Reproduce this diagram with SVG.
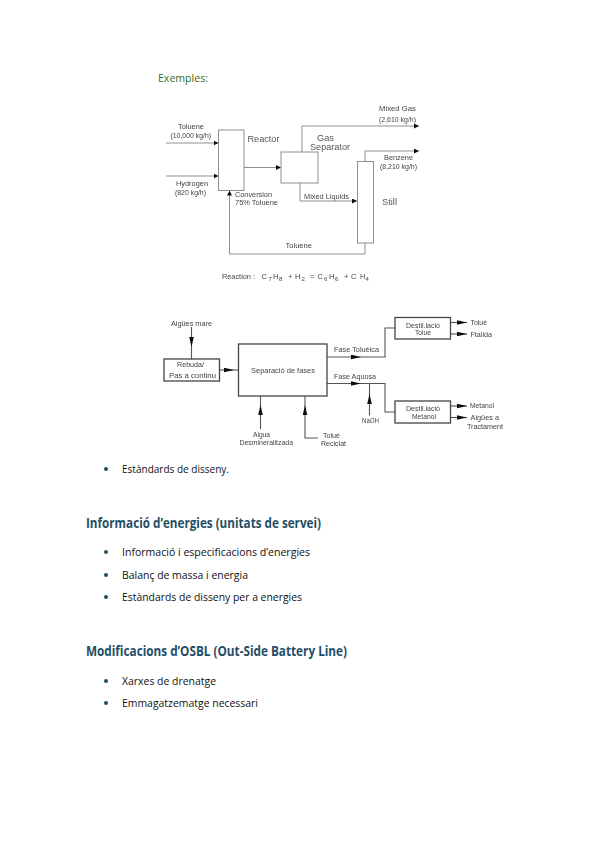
<svg xmlns="http://www.w3.org/2000/svg" width="599" height="848" viewBox="0 0 599 848">
<style>
.bg{fill:#fff}
.n1{fill:#fff;stroke:#8f8f8f;stroke-width:1}
.n2{fill:#fff;stroke:#6a6a6a;stroke-width:1}
.n2b{fill:#fff;stroke:#444;stroke-width:1.3}
.c1{fill:none;stroke:#8f8f8f;stroke-width:1}
.c2{fill:none;stroke:#555;stroke-width:1.1}
.t1{font-family:"Liberation Sans",Arial,sans-serif;font-size:7px;fill:#444}
.t1b{font-family:"Liberation Sans",Arial,sans-serif;font-size:9.500px;fill:#555}
.t2{font-family:"Liberation Sans",Arial,sans-serif;font-size:7.500px;fill:#444}
.t3{font-family:"Liberation Sans",Arial,sans-serif;font-size:7.500px;fill:#444}
.sub{font-size:6px}
.body{font-family:"Open Sans","Liberation Sans",sans-serif;font-size:11px;fill:#111}
.h{font-family:"Open Sans","Liberation Sans",sans-serif;font-size:13.500px;font-weight:700;fill:#1f4e66}
.ex{font-family:"Open Sans","Liberation Sans",sans-serif;font-size:11.500px;fill:#34701a}
.bul{fill:#1f4e66}
</style>
<defs>
<marker id="a1" markerUnits="userSpaceOnUse" markerWidth="6" markerHeight="6" refX="5" refY="2.500" orient="auto"><path d="M0 0L5 2.500L0 5Z" fill="#111"/></marker>
<marker id="a2" markerUnits="userSpaceOnUse" markerWidth="12" markerHeight="6" refX="10" refY="2.500" orient="auto"><path d="M0 0.200L10 2.500L0 4.800Z" fill="#111"/></marker>
<filter id="soft" x="-5%" y="-5%" width="110%" height="110%"><feGaussianBlur stdDeviation="0.450"/></filter>
</defs>
<rect class="bg" width="599" height="848"/>
<text class="ex" x="158" y="82" textLength="50" lengthAdjust="spacingAndGlyphs">Exemples:</text>

<g filter="url(#soft)">
<g id="connectors-top">
<path class="c1" d="M166 143H218.500" marker-end="url(#a1)"/>
<path class="c1" d="M166 176H218.500" marker-end="url(#a1)"/>
<path class="c1" d="M244 167.500H281" marker-end="url(#a1)"/>
<path class="c1" d="M302 152V126H419" marker-end="url(#a1)"/>
<path class="c1" d="M365 161.500V151H419" marker-end="url(#a1)"/>
<path class="c1" d="M300 183V201H357" marker-end="url(#a1)"/>
<path class="c1" d="M365 243V254H229.500V190.500" marker-end="url(#a1)"/>
</g>
<g id="reactor"><rect class="n1" x="218.500" y="130" width="25.500" height="60.500"/><text class="t1b" x="247.500" y="141.500" textLength="32" lengthAdjust="spacingAndGlyphs">Reactor</text></g>
<g id="gas-separator"><rect class="n1" x="281" y="152" width="37" height="31"/><text class="t1b" x="317" y="140.500" textLength="17" lengthAdjust="spacingAndGlyphs">Gas</text><text class="t1b" x="310" y="150" textLength="40" lengthAdjust="spacingAndGlyphs">Separator</text></g>
<g id="still"><rect class="n1" x="357.500" y="161.500" width="16" height="81.500"/><text class="t1b" x="382" y="205" textLength="15" lengthAdjust="spacingAndGlyphs">Still</text></g>
<g id="labels-top">
<text class="t1" x="379" y="111" textLength="37" lengthAdjust="spacingAndGlyphs">Mixed Gas</text>
<text class="t1" x="379" y="121.500" textLength="37" lengthAdjust="spacingAndGlyphs">(2,610 kg/h)</text>
<text class="t1" x="178" y="128.500" textLength="26" lengthAdjust="spacingAndGlyphs">Toluene</text>
<text class="t1" x="170.500" y="138" textLength="40.500" lengthAdjust="spacingAndGlyphs">(10,000 kg/h)</text>
<text class="t1" x="384" y="160" textLength="29" lengthAdjust="spacingAndGlyphs">Benzene</text>
<text class="t1" x="380" y="169" textLength="37" lengthAdjust="spacingAndGlyphs">(8,210 kg/h)</text>
<text class="t1" x="176" y="185.500" textLength="32" lengthAdjust="spacingAndGlyphs">Hydrogen</text>
<text class="t1" x="175" y="195" textLength="31" lengthAdjust="spacingAndGlyphs">(820 kg/h)</text>
<text class="t1" x="235" y="196.500" textLength="37" lengthAdjust="spacingAndGlyphs">Conversion</text>
<text class="t1" x="235" y="205" textLength="43" lengthAdjust="spacingAndGlyphs">75% Toluene</text>
<text class="t1" x="304" y="199" textLength="45" lengthAdjust="spacingAndGlyphs">Mixed Liquids</text>
<text class="t1" x="285.500" y="248" textLength="26.500" lengthAdjust="spacingAndGlyphs">Toluene</text>
<text class="t3" x="222" y="279" textLength="33" lengthAdjust="spacingAndGlyphs">Reaction :</text>
<text class="t3"><tspan x="261.500" y="279">C</tspan><tspan class="sub" x="268.500" y="281">7</tspan><tspan x="273" y="279">H</tspan><tspan class="sub" x="279" y="281">8</tspan><tspan x="288" y="279">+</tspan><tspan x="295" y="279">H</tspan><tspan class="sub" x="301.500" y="281">2</tspan><tspan x="310" y="279">=</tspan><tspan x="317.500" y="279">C</tspan><tspan class="sub" x="324" y="281">6</tspan><tspan x="329" y="279">H</tspan><tspan class="sub" x="335" y="281">6</tspan><tspan x="344" y="279">+</tspan><tspan x="351" y="279">C</tspan><tspan x="360" y="279">H</tspan><tspan class="sub" x="365.500" y="281">4</tspan></text>
</g>

<g id="connectors-bottom">
<path class="c2" d="M191.500 327V347" marker-end="url(#a2)"/><path class="c2" d="M191.500 347V359"/>
<path class="c2" d="M220 370H234" marker-end="url(#a2)"/><path class="c2" d="M234 370H239"/>
<path class="c2" d="M260.500 429V405" marker-end="url(#a2)"/><path class="c2" d="M260.500 405V396"/>
<path class="c2" d="M318 438H305V405" marker-end="url(#a2)"/><path class="c2" d="M305 405V396"/>
<path class="c2" d="M327 357H361" marker-end="url(#a2)"/><path class="c2" d="M361 357H385V328H395"/>
<path class="c2" d="M327 383.500H361" marker-end="url(#a2)"/><path class="c2" d="M361 383.500H385V412H395"/>
<path class="c2" d="M369.500 415.500V394" marker-end="url(#a2)"/><path class="c2" d="M369.500 394V383.500"/>
<path class="c2" d="M451 322.500H467" marker-end="url(#a2)"/>
<path class="c2" d="M451 334H467" marker-end="url(#a2)"/>
<path class="c2" d="M451 406H467" marker-end="url(#a2)"/>
<path class="c2" d="M451 417.500H467" marker-end="url(#a2)"/>
</g>
<g id="rebuda"><rect class="n2b" x="164" y="359" width="55.500" height="22"/><text class="t2" x="177" y="367" textLength="27" lengthAdjust="spacingAndGlyphs">Rebuda/</text><text class="t2" x="169" y="377.500" textLength="47" lengthAdjust="spacingAndGlyphs">Pas a continu</text></g>
<g id="separacio"><rect class="n2b" x="238.500" y="344" width="88.500" height="52"/><text class="t2" x="251" y="373" textLength="64" lengthAdjust="spacingAndGlyphs">Separació de fases</text></g>
<g id="destil-toluens"><rect class="n2b" x="395" y="317.500" width="55.500" height="21.500"/><text class="t2" x="406" y="327.500" textLength="34" lengthAdjust="spacingAndGlyphs">Destil.lació</text><text class="t2" x="415" y="335" textLength="16" lengthAdjust="spacingAndGlyphs">Toluè</text></g>
<g id="destil-metanol"><rect class="n2b" x="395" y="401" width="55.500" height="22"/><text class="t2" x="406" y="411" textLength="34" lengthAdjust="spacingAndGlyphs">Destil.lació</text><text class="t2" x="412" y="419" textLength="24" lengthAdjust="spacingAndGlyphs">Metanol</text></g>
<g id="labels-bottom">
<text class="t2" x="171" y="325.500" textLength="41" lengthAdjust="spacingAndGlyphs">Aigües mare</text>
<text class="t2" x="253" y="436.500" textLength="17" lengthAdjust="spacingAndGlyphs">Aigua</text>
<text class="t2" x="239.500" y="444.500" textLength="53.500" lengthAdjust="spacingAndGlyphs">Desmineralitzada</text>
<text class="t2" x="323" y="437.500" textLength="17" lengthAdjust="spacingAndGlyphs">Toluè</text>
<text class="t2" x="321" y="446" textLength="25" lengthAdjust="spacingAndGlyphs">Reciclat</text>
<text class="t2" x="334" y="351.500" textLength="45" lengthAdjust="spacingAndGlyphs">Fase Toluèica</text>
<text class="t2" x="334" y="379" textLength="42" lengthAdjust="spacingAndGlyphs">Fase Aquosa</text>
<text class="t2" x="470.500" y="325" textLength="16.500" lengthAdjust="spacingAndGlyphs">Toluè</text>
<text class="t2" x="470.500" y="337" textLength="21.500" lengthAdjust="spacingAndGlyphs">Ftalida</text>
<text class="t2" x="470" y="408" textLength="24" lengthAdjust="spacingAndGlyphs">Metanol</text>
<text class="t2" x="470.500" y="420" textLength="28.500" lengthAdjust="spacingAndGlyphs">Aigües a</text>
<text class="t2" x="467" y="428.500" textLength="36" lengthAdjust="spacingAndGlyphs">Tractament</text>
<text class="t2" x="362" y="423" textLength="17" lengthAdjust="spacingAndGlyphs">NaOH</text>
</g>
</g>

<g id="document-text">
<circle class="bul" cx="106" cy="469" r="2"/><text class="body" x="122" y="473" textLength="107" lengthAdjust="spacingAndGlyphs">Estàndards de disseny.</text>
<text class="h" x="86" y="528" textLength="235" lengthAdjust="spacingAndGlyphs">Informació d’energies (unitats de servei)</text>
<circle class="bul" cx="106" cy="552" r="2"/><text class="body" x="122" y="556" textLength="188" lengthAdjust="spacingAndGlyphs">Informació i especificacions d’energies</text>
<circle class="bul" cx="106" cy="575" r="2"/><text class="body" x="122" y="579" textLength="126" lengthAdjust="spacingAndGlyphs">Balanç de massa i energia</text>
<circle class="bul" cx="106" cy="597" r="2"/><text class="body" x="122" y="601" textLength="180" lengthAdjust="spacingAndGlyphs">Estàndards de disseny per a energies</text>
<text class="h" x="86" y="656" textLength="261" lengthAdjust="spacingAndGlyphs">Modificacions d’OSBL (Out-Side Battery Line)</text>
<circle class="bul" cx="106" cy="681" r="2"/><text class="body" x="122" y="685" textLength="94" lengthAdjust="spacingAndGlyphs">Xarxes de drenatge</text>
<circle class="bul" cx="106" cy="703" r="2"/><text class="body" x="122" y="707" textLength="136" lengthAdjust="spacingAndGlyphs">Emmagatzematge necessari</text>
</g>
</svg>
